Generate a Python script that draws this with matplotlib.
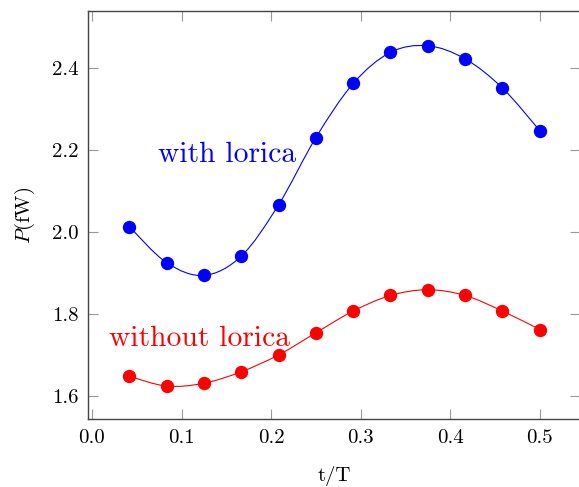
import numpy as np
import matplotlib
matplotlib.use('Agg')
import matplotlib.pyplot as plt
from matplotlib.path import Path
from matplotlib.patches import PathPatch

plt.rcParams['font.family'] = 'serif'
plt.rcParams['font.serif'] = ['cmr10', 'DejaVu Serif']
plt.rcParams['mathtext.fontset'] = 'cm'
plt.rcParams['axes.formatter.use_mathtext'] = True

# t/T sampled every 1/24 of a period
t = np.arange(1, 13) / 24.0
p_with = [2.014, 1.926, 1.895, 1.942, 2.067, 2.231, 2.363, 2.439, 2.455, 2.423, 2.352, 2.248]
p_without = [1.649, 1.625, 1.632, 1.660, 1.701, 1.755, 1.808, 1.846, 1.860, 1.846, 1.808, 1.763]


def smooth_path(x, y):
    # cubic bezier through the points, catmull-rom style tangents
    x = np.asarray(x)
    y = np.asarray(y)
    n = len(x)
    verts = [(x[0], y[0])]
    codes = [Path.MOVETO]
    k = 1.0 / 6.0
    for i in range(n - 1):
        i0 = max(i - 1, 0)
        i3 = min(i + 2, n - 1)
        c1 = (x[i] + k * (x[i + 1] - x[i0]), y[i] + k * (y[i + 1] - y[i0]))
        c2 = (x[i + 1] - k * (x[i3] - x[i]), y[i + 1] - k * (y[i3] - y[i]))
        verts += [c1, c2, (x[i + 1], y[i + 1])]
        codes += [Path.CURVE4] * 3
    return Path(verts, codes)


fig = plt.figure(figsize=(5.79, 4.87), dpi=100)
# right edge of the frame falls just outside the picture, as in the original crop
ax = fig.add_axes([0.1528, 0.139, 0.8492, 0.839])

for y, c in [(p_with, 'blue'), (p_without, 'red')]:
    ax.add_patch(PathPatch(smooth_path(t, y), fill=False, edgecolor=c, lw=0.8))
    ax.plot(t, y, 'o', color=c, ms=8.6, ls='none')

ax.text(0.1505, 2.172, 'with lorica', color='blue', fontsize=21.3, ha='center', va='baseline')
ax.text(0.1205, 1.7227, 'without lorica', color='red', fontsize=21.3, ha='center', va='baseline')

ax.set_xlim(-0.0039, 0.5451)
ax.set_ylim(1.544, 2.5405)
ax.set_xticks([0.0, 0.1, 0.2, 0.3, 0.4, 0.5])
ax.set_yticks([1.6, 1.8, 2.0, 2.2, 2.4])
ax.set_xticklabels(['0.0', '0.1', '0.2', '0.3', '0.4', '0.5'])
ax.set_yticklabels(['1.6', '1.8', '2.0', '2.2', '2.4'])
ax.tick_params(direction='in', top=True, right=True, length=7.2, width=0.8,
               color='#999999', labelsize=15, pad=7)
for s in ax.spines.values():
    s.set_color('#444444')
    s.set_linewidth(1.0)

ax.set_xlabel('t/T', fontsize=15, labelpad=14)
ax.set_ylabel(r'$P$(fW)', fontsize=15, labelpad=11)

fig.savefig('out.png', dpi=100)
